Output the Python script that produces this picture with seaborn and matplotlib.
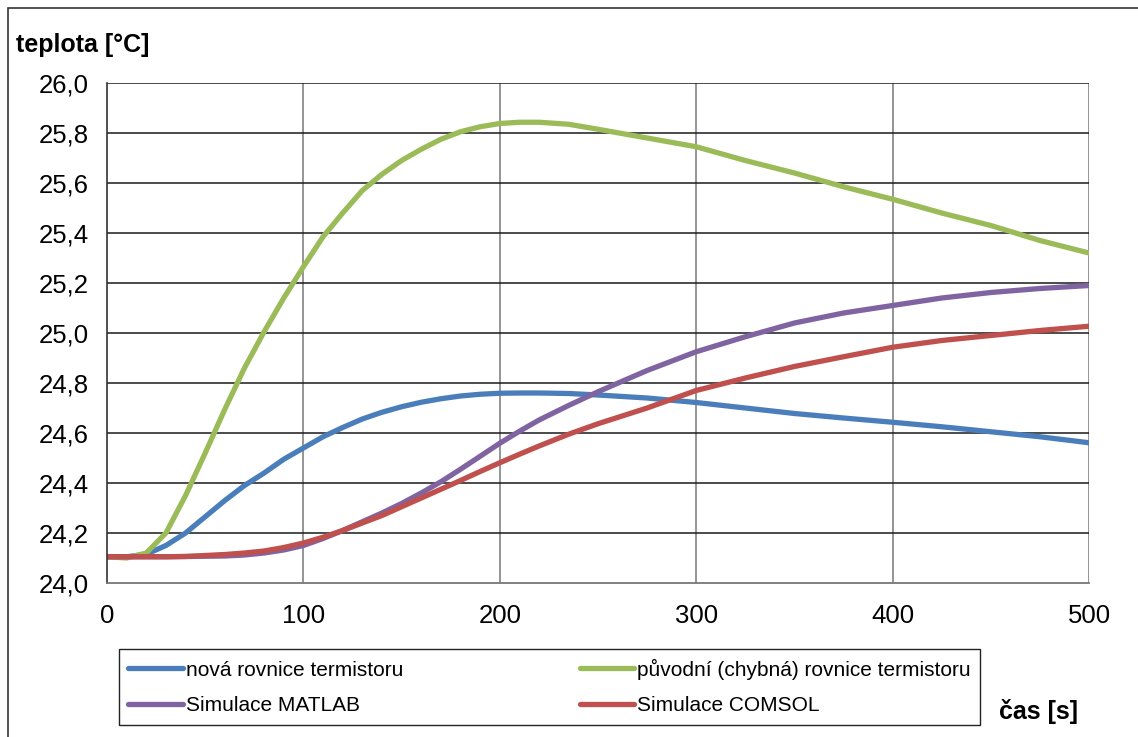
import numpy as np
import pandas as pd
import matplotlib
matplotlib.use("Agg")
import matplotlib.pyplot as plt
from matplotlib.patches import Rectangle
from matplotlib.ticker import FuncFormatter
import seaborn as sns

# ----------------------------
# data
# ----------------------------
cas = [0, 10, 20, 30, 40, 50, 60, 70, 80, 90, 100, 110, 120, 130, 140, 150, 160,
       170, 180, 190, 200, 210, 220, 235, 250, 275, 300, 325, 350, 375, 400, 425,
       450, 475, 500]

nova = [24.105, 24.105, 24.115, 24.15, 24.20, 24.265, 24.33, 24.39, 24.44, 24.495,
        24.54, 24.585, 24.622, 24.656, 24.683, 24.705, 24.723, 24.737, 24.748, 24.755,
        24.759, 24.76, 24.76, 24.758, 24.752, 24.74, 24.722, 24.70, 24.678, 24.66,
        24.643, 24.625, 24.605, 24.585, 24.561]

puvodni = [24.105, 24.10, 24.12, 24.20, 24.35, 24.52, 24.695, 24.86, 25.005, 25.14,
           25.265, 25.385, 25.48, 25.57, 25.635, 25.69, 25.735, 25.775, 25.805, 25.825,
           25.838, 25.843, 25.843, 25.835, 25.815, 25.78, 25.745, 25.69, 25.64, 25.585,
           25.535, 25.48, 25.43, 25.37, 25.32]

matlab = [24.105, 24.105, 24.105, 24.105, 24.106, 24.107, 24.108, 24.112, 24.12, 24.132,
          24.15, 24.178, 24.21, 24.245, 24.28, 24.318, 24.36, 24.405, 24.455, 24.507,
          24.559, 24.607, 24.652, 24.71, 24.765, 24.85, 24.925, 24.985, 25.04, 25.08,
          25.11, 25.14, 25.162, 25.178, 25.19]

comsol = [24.105, 24.105, 24.105, 24.105, 24.106, 24.11, 24.114, 24.12, 24.128, 24.142,
          24.16, 24.183, 24.21, 24.24, 24.27, 24.305, 24.34, 24.375, 24.41, 24.446,
          24.481, 24.515, 24.548, 24.595, 24.637, 24.70, 24.77, 24.82, 24.866, 24.905,
          24.943, 24.97, 24.99, 25.01, 25.027]

labels = ["nová rovnice termistoru", "původní (chybná) rovnice termistoru",
          "Simulace MATLAB", "Simulace COMSOL"]
colors = ["#4A7EBB", "#9BBB59", "#8064A2", "#C0504D"]

x_ticks = [0, 100, 200, 300, 400, 500]
y_ticks = [24.0, 24.2, 24.4, 24.6, 24.8, 25.0, 25.2, 25.4, 25.6, 25.8, 26.0]

# ----------------------------
# figure
# ----------------------------
sns.set_style("white")
plt.rcParams['font.family'] = ['Liberation Sans', 'DejaVu Sans']
plt.rcParams['text.color'] = 'black'
plt.rcParams['xtick.color'] = 'black'
plt.rcParams['ytick.color'] = 'black'

fig = plt.figure(figsize=(11.38, 7.37), dpi=100)
ax = fig.add_axes([107 / 1138, 1 - 583 / 737, (1089 - 107) / 1138, 500 / 737])

series = [nova, puvodni, matlab, comsol]
handles = []
for vals, lab, col in zip(series, labels, colors):
    sns.lineplot(x=cas, y=vals, ax=ax, color=col, linewidth=3.8, label=lab,
                 solid_capstyle='round', solid_joinstyle='round', legend=False)
    handles.append(ax.lines[-1])

ax.set_xlim(0, 500)
ax.set_ylim(24.0, 26.0)
ax.set_xticks(x_ticks)
ax.set_yticks(y_ticks)
ax.yaxis.set_major_formatter(FuncFormatter(lambda v, p: f"{v:.1f}".replace(".", ",")))
ax.tick_params(axis='both', labelsize=18.5, labelcolor='black', length=7, width=1,
               direction='out', pad=6)
ax.tick_params(axis='x', color='#888888', pad=8)
ax.tick_params(axis='y', color='#555555')

# grid: dark horizontal, grey vertical
for yv in y_ticks[1:]:
    ax.axhline(yv, color='#1a1a1a', lw=1.1, zorder=0.5)
for xv in x_ticks[1:]:
    ax.axvline(xv, color='#8c8c8c', lw=1.3, zorder=0.4)

for s in ['top', 'right']:
    ax.spines[s].set_visible(False)
ax.spines['left'].set_color('#333333')
ax.spines['left'].set_linewidth(1.2)
ax.spines['bottom'].set_color('#777777')
ax.spines['bottom'].set_linewidth(1.3)
ax.set_xlabel("")
ax.set_ylabel("")

# axis titles
fig.text(16 / 1138, 1 - 45 / 737, "teplota [°C]", fontsize=18, fontweight='bold',
         va='center', ha='left')
fig.text(999 / 1138, 1 - 712 / 737, "čas [s]", fontsize=18, fontweight='bold',
         va='center', ha='left')

# legend (two columns)
order = [0, 2, 1, 3]
leg = fig.legend([handles[i] for i in order], [labels[i] for i in order],
                 ncol=2, loc='center', mode='expand',
                 bbox_to_anchor=(119 / 1138, 1 - 724 / 737, 861 / 1138, 74 / 737),
                 fontsize=15, frameon=True, fancybox=False, framealpha=1,
                 edgecolor='#222222', handlelength=2.6, handletextpad=0.15,
                 borderpad=0.45, labelspacing=0.8, borderaxespad=0)
leg.get_frame().set_linewidth(1.0)

# outer chart frame
fig.add_artist(Rectangle((8 / 1138, -0.1), 1.2, 1.1 - 8 / 737, transform=fig.transFigure,
                         fill=False, edgecolor='#333333', linewidth=1.2))

fig.savefig("out.png", dpi=100)
